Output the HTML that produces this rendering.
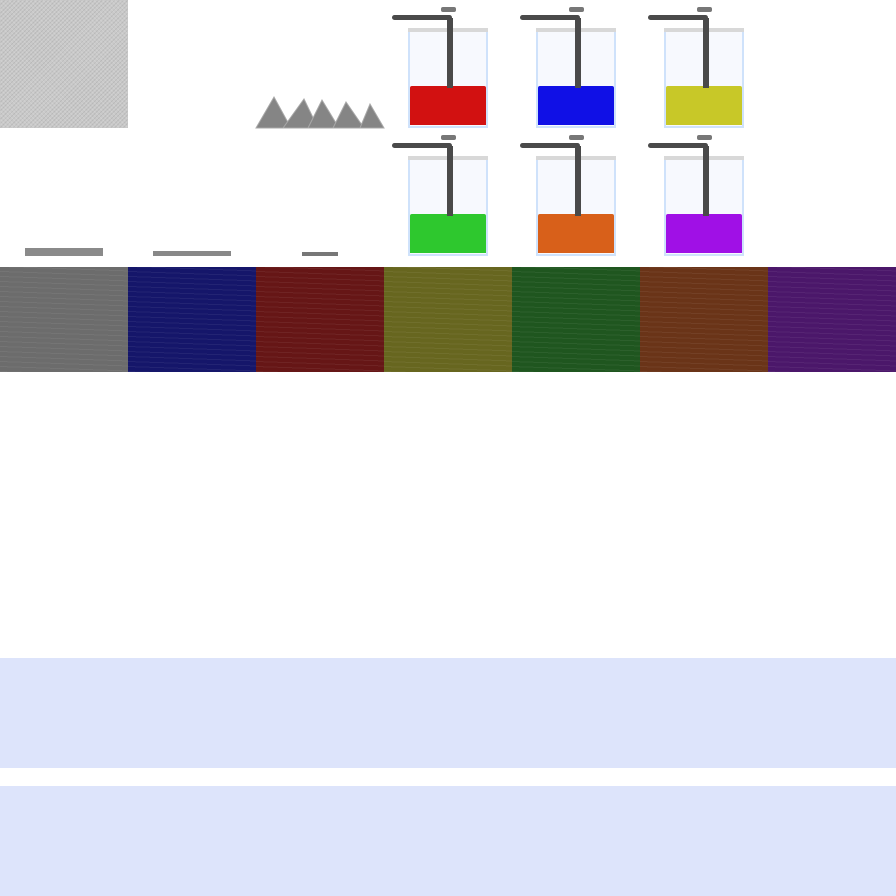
<!DOCTYPE html>
<html><head><meta charset="utf-8"><style>
html,body{margin:0;padding:0;background:#fff;width:896px;height:896px;overflow:hidden;position:relative;font-family:"Liberation Sans",sans-serif}
.a{position:absolute}
</style></head><body>
<div class="a" style="left:0;top:0;width:128px;height:128px;background:#c9c9c9;background-image:repeating-linear-gradient(45deg,rgba(255,255,255,.15) 0 1px,transparent 1px 3px),repeating-linear-gradient(-45deg,rgba(0,0,0,.08) 0 1px,transparent 1px 3px)"></div>
<svg class="a" style="left:0;top:0" width="896" height="896" id="pyr"></svg>
<div class="a" style="left:25px;top:248px;width:78px;height:8px;background:#8a8a8a"></div>
<div class="a" style="left:153px;top:251px;width:78px;height:5px;background:#888"></div>
<div class="a" style="left:302px;top:252px;width:36px;height:4px;background:#777"></div>
<div class="a" style="left:0;top:658px;width:896px;height:110px;background:#dde4fb"></div>
<div class="a" style="left:0;top:786px;width:896px;height:110px;background:#dde4fb"></div>
<div id="root"></div>
<script>
const stripeColors=["#6c6c6c","#15166a","#661616","#67661f","#1f561f","#6a3418","#4b176a"];
const beakerColors=["#d21111","#1010e6","#c8c828","#2ec82e","#d8601a","#a010e6"];
const pyrPeaks=[[274,97,256,291],[304,99,283,318],[322,100,308,339],[346,102,333,364],[370,104,360,384]];
const root=document.getElementById('root');
stripeColors.forEach((c,i)=>{
 const d=document.createElement('div');d.className='a';
 
 
 d.style.cssText=`left:${i*128}px;top:267px;width:128px;height:105px;background:${c};background-image:repeating-linear-gradient(2deg,rgba(255,255,255,.06) 0 1px,transparent 1px 5px)`;
 root.appendChild(d);
});
beakerColors.forEach((c,i)=>{
 const x=384+(i%3)*128, y=Math.floor(i/3)*128;
 const g=document.createElement('div');g.className='a';
 
 
 g.style.cssText=`left:${x}px;top:${y}px;width:128px;height:128px`;
 g.innerHTML=`<div class="a" style="left:24px;top:28px;width:80px;height:100px;background:#f7f9fe;border-left:2px solid #cfe2fb;border-right:2px solid #cfe2fb;border-bottom:2px solid #cfe2fb;box-sizing:border-box"></div>
 <div class="a" style="left:24px;top:28px;width:80px;height:4px;background:#d8d8d8"></div>
 <div class="a" style="left:26px;top:86px;width:76px;height:39px;background:${c};border-radius:2px 2px 0 0"></div>
 <div class="a" style="left:63px;top:18px;width:6px;height:70px;background:#4a4a4a"></div>
 <div class="a" style="left:8px;top:15px;width:60px;height:5px;background:#4a4a4a;border-radius:3px"></div>
 <div class="a" style="left:57px;top:7px;width:15px;height:5px;background:#777;border-radius:2px"></div>`;
 root.appendChild(g);
});
const svg=document.getElementById('pyr');
pyrPeaks.forEach(p=>{
 const t=document.createElementNS('http://www.w3.org/2000/svg','polygon');
 
 
 t.setAttribute('points',`${p[2]},128 ${p[0]},${p[1]} ${p[3]},128`);
 t.setAttribute('fill','#858585');t.setAttribute('stroke','#a8a8a8');t.setAttribute('stroke-width','1');
 svg.appendChild(t);
});
</script>
</body></html>
